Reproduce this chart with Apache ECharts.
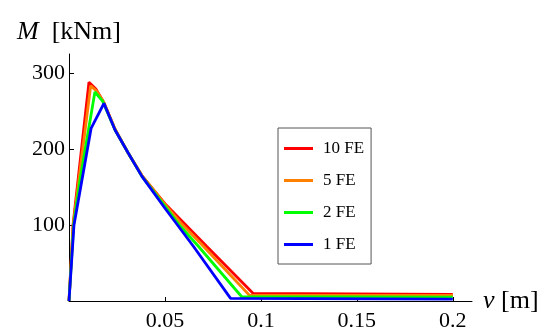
<!DOCTYPE html>
<html>
<head>
<meta charset="utf-8">
<script src="https://cdn.jsdelivr.net/npm/echarts@6/dist/echarts.min.js"></script>
<style>html,body{margin:0;padding:0;background:#fff;}#c{width:546px;height:332px;}</style>
</head>
<body>
<div id="c"></div>
<script>
var seriesNames = ['10 FE', '5 FE', '2 FE', '1 FE'];
var seriesColors = ['#ff0000', '#ff8000', '#00ff00', '#0000ff'];
var fe10 = [[0,0],[0.0021,100],[0.0104,288],[0.014,279],[0.018,262],[0.024,226],[0.031,194],[0.038,165],[0.05,128],[0.0578,108],[0.0717,72],[0.096,10],[0.2,8.7]];
var fe5  = [[0,0],[0.0022,100],[0.0113,283],[0.0145,276],[0.018,262],[0.024,226],[0.031,194],[0.038,165],[0.05,127],[0.0578,104],[0.070,72],[0.094,7.5],[0.2,7.3]];
var fe2  = [[0,0],[0.0024,100],[0.0057,159],[0.0135,275],[0.0175,263],[0.024,225],[0.031,194],[0.038,164],[0.05,125],[0.0578,99],[0.0674,72],[0.090,5.6],[0.2,5.1]];
var fe1  = [[0,0],[0.0026,100],[0.0115,227],[0.0182,260],[0.024,225],[0.031,194],[0.038,164],[0.05,122],[0.0648,72],[0.0842,3.5],[0.2,2.5]];
var xTicks = [0.05, 0.1, 0.15, 0.2];
var yTicks = [100, 200, 300];
var allData = [fe10, fe5, fe2, fe1];

var serif = 'Liberation Serif';
var chart = echarts.init(document.getElementById('c'), null, {renderer: 'canvas'});
var series = seriesNames.map(function (n, i) {
  return {
    name: n, type: 'line', data: allData[i], showSymbol: false, symbol: 'none',
    lineStyle: {color: seriesColors[i], width: 2.8}, itemStyle: {color: seriesColors[i]},
    animation: false
  };
});
chart.setOption({
  animation: false,
  backgroundColor: '#ffffff',
  grid: {left: 69, right: 74, top: 54, bottom: 30},
  legend: {
    orient: 'vertical', left: 278, top: 128,
    data: seriesNames,
    icon: 'rect', itemWidth: 29, itemHeight: 3, itemGap: 15,
    padding: [12, 7, 11, 6],
    borderColor: '#555', borderWidth: 1,
    textStyle: {fontFamily: serif, fontSize: 17, color: '#000', padding: [0, 0, 0, 5]}
  },
  xAxis: {
    type: 'value', min: 0, max: 0.21,
    name: '{it|v} [m]', nameLocation: 'end', nameGap: 11,
    nameTextStyle: {fontFamily: serif, fontSize: 26, color: '#000', verticalAlign: 'middle',
      rich: {it: {fontFamily: serif, fontSize: 26, fontStyle: 'italic', color: '#000'}}},
    axisLine: {show: true, lineStyle: {color: '#000', width: 1}},
    axisTick: {show: true, inside: true, length: 4, customValues: xTicks, lineStyle: {color: '#000'}},
    axisLabel: {customValues: xTicks, fontFamily: serif, fontSize: 22, color: '#000', margin: 9},
    splitLine: {show: false}
  },
  yAxis: {
    type: 'value', min: 0, max: 325,
    name: '{it|M}  [kNm]', nameLocation: 'end', nameGap: 22,
    nameTextStyle: {fontFamily: serif, fontSize: 26, color: '#000', verticalAlign: 'middle', align: 'center',
      rich: {it: {fontFamily: serif, fontSize: 26, fontStyle: 'italic', color: '#000'}}},
    axisLine: {show: true, lineStyle: {color: '#000', width: 1}},
    axisTick: {show: true, inside: true, length: 5, customValues: yTicks, lineStyle: {color: '#000'}},
    axisLabel: {customValues: yTicks, fontFamily: serif, fontSize: 22, color: '#000', margin: 4},
    splitLine: {show: false}
  },
  series: series
});
</script>
</body>
</html>
